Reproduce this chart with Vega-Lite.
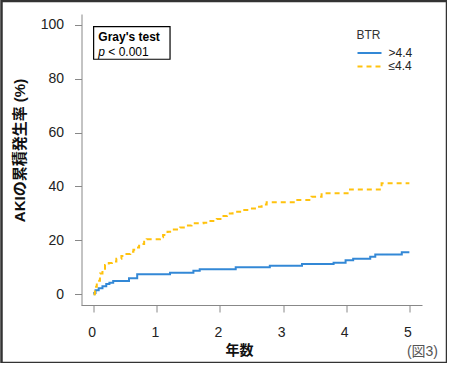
{
  "$schema": "https://vega.github.io/schema/vega-lite/v6.json",
  "width": 445.5,
  "height": 362,
  "autosize": {"type": "none"},
  "padding": {"left": 1.5, "top": 1, "right": 0, "bottom": 0},
  "config": {
    "font": "Liberation Sans, 'Noto Sans CJK JP'",
    "view": {"stroke": "#333333", "strokeWidth": 2.5},
    "legend": {
      "orient": "none",
      "legendX": 355,
      "legendY": 29,
      "padding": 0,
      "titleFontSize": 12,
      "titleFontWeight": "normal",
      "titleColor": "#333333",
      "titlePadding": 5,
      "labelFontSize": 12,
      "labelColor": "#222222",
      "labelOffset": 6,
      "symbolType": "stroke",
      "symbolSize": 576,
      "symbolStrokeWidth": 2,
      "clipHeight": 12,
      "rowPadding": 1.4
    }
  },
  "datasets": {
    "curves": [
      {"years": 0, "cuminc": 0, "BTR": ">4.4"},
      {"years": 0.01, "cuminc": 0.5, "BTR": ">4.4"},
      {"years": 0.03, "cuminc": 1.5, "BTR": ">4.4"},
      {"years": 0.08, "cuminc": 2.2, "BTR": ">4.4"},
      {"years": 0.14, "cuminc": 3.0, "BTR": ">4.4"},
      {"years": 0.2, "cuminc": 3.8, "BTR": ">4.4"},
      {"years": 0.25, "cuminc": 4.3, "BTR": ">4.4"},
      {"years": 0.31, "cuminc": 4.9, "BTR": ">4.4"},
      {"years": 0.56, "cuminc": 5.9, "BTR": ">4.4"},
      {"years": 0.69, "cuminc": 7.4, "BTR": ">4.4"},
      {"years": 1.21, "cuminc": 8.0, "BTR": ">4.4"},
      {"years": 1.58, "cuminc": 8.7, "BTR": ">4.4"},
      {"years": 1.68, "cuminc": 9.3, "BTR": ">4.4"},
      {"years": 2.25, "cuminc": 10.0, "BTR": ">4.4"},
      {"years": 2.79, "cuminc": 10.6, "BTR": ">4.4"},
      {"years": 3.3, "cuminc": 11.2, "BTR": ">4.4"},
      {"years": 3.8, "cuminc": 11.7, "BTR": ">4.4"},
      {"years": 3.99, "cuminc": 12.6, "BTR": ">4.4"},
      {"years": 4.11, "cuminc": 13.2, "BTR": ">4.4"},
      {"years": 4.38, "cuminc": 13.9, "BTR": ">4.4"},
      {"years": 4.46, "cuminc": 14.7, "BTR": ">4.4"},
      {"years": 4.88, "cuminc": 15.6, "BTR": ">4.4"},
      {"years": 5.0, "cuminc": 15.6, "BTR": ">4.4"},
      {"years": 0, "cuminc": 0, "BTR": "≤4.4"},
      {"years": 0.02, "cuminc": 2.8, "BTR": "≤4.4"},
      {"years": 0.05, "cuminc": 5.0, "BTR": "≤4.4"},
      {"years": 0.1, "cuminc": 7.7, "BTR": "≤4.4"},
      {"years": 0.14, "cuminc": 9.5, "BTR": "≤4.4"},
      {"years": 0.18, "cuminc": 10.8, "BTR": "≤4.4"},
      {"years": 0.24, "cuminc": 11.6, "BTR": "≤4.4"},
      {"years": 0.29, "cuminc": 12.1, "BTR": "≤4.4"},
      {"years": 0.36, "cuminc": 13.2, "BTR": "≤4.4"},
      {"years": 0.44, "cuminc": 14.2, "BTR": "≤4.4"},
      {"years": 0.5, "cuminc": 14.9, "BTR": "≤4.4"},
      {"years": 0.58, "cuminc": 15.8, "BTR": "≤4.4"},
      {"years": 0.63, "cuminc": 16.5, "BTR": "≤4.4"},
      {"years": 0.68, "cuminc": 17.3, "BTR": "≤4.4"},
      {"years": 0.72, "cuminc": 18.0, "BTR": "≤4.4"},
      {"years": 0.76, "cuminc": 18.6, "BTR": "≤4.4"},
      {"years": 0.8, "cuminc": 19.5, "BTR": "≤4.4"},
      {"years": 0.84, "cuminc": 20.4, "BTR": "≤4.4"},
      {"years": 1.05, "cuminc": 21.1, "BTR": "≤4.4"},
      {"years": 1.1, "cuminc": 22.0, "BTR": "≤4.4"},
      {"years": 1.17, "cuminc": 23.2, "BTR": "≤4.4"},
      {"years": 1.27, "cuminc": 24.0, "BTR": "≤4.4"},
      {"years": 1.37, "cuminc": 24.8, "BTR": "≤4.4"},
      {"years": 1.45, "cuminc": 25.5, "BTR": "≤4.4"},
      {"years": 1.55, "cuminc": 26.3, "BTR": "≤4.4"},
      {"years": 1.74, "cuminc": 26.5, "BTR": "≤4.4"},
      {"years": 1.85, "cuminc": 27.2, "BTR": "≤4.4"},
      {"years": 1.95, "cuminc": 27.9, "BTR": "≤4.4"},
      {"years": 2.03, "cuminc": 29.0, "BTR": "≤4.4"},
      {"years": 2.11, "cuminc": 30.0, "BTR": "≤4.4"},
      {"years": 2.2, "cuminc": 30.6, "BTR": "≤4.4"},
      {"years": 2.32, "cuminc": 31.3, "BTR": "≤4.4"},
      {"years": 2.45, "cuminc": 31.8, "BTR": "≤4.4"},
      {"years": 2.58, "cuminc": 32.5, "BTR": "≤4.4"},
      {"years": 2.66, "cuminc": 33.3, "BTR": "≤4.4"},
      {"years": 2.74, "cuminc": 34.1, "BTR": "≤4.4"},
      {"years": 3.19, "cuminc": 35.0, "BTR": "≤4.4"},
      {"years": 3.45, "cuminc": 36.2, "BTR": "≤4.4"},
      {"years": 3.61, "cuminc": 37.5, "BTR": "≤4.4"},
      {"years": 4.06, "cuminc": 38.9, "BTR": "≤4.4"},
      {"years": 4.56, "cuminc": 41.2, "BTR": "≤4.4"},
      {"years": 5.0, "cuminc": 41.2, "BTR": "≤4.4"}
    ]
  },
  "layer": [
    {
      "data": {"name": "curves"},
      "mark": {"type": "line", "interpolate": "step-after", "strokeWidth": 2},
      "encoding": {
        "x": {
          "field": "years",
          "type": "quantitative",
          "scale": {"domain": [-0.2, 5.2], "range": [79.5, 420.5], "nice": false, "zero": false},
          "axis": {
            "title": "年数",
            "titleFontSize": 14,
            "titleFontWeight": "bold",
            "titleColor": "#111111",
            "titleX": 237.5,
            "titleY": 38,
            "values": [0, 1, 2, 3, 4, 5],
            "format": "d",
            "offset": -58,
            "grid": false,
            "domainColor": "#888888",
            "tickColor": "#888888",
            "tickSize": 7,
            "labelFontSize": 14,
            "labelPadding": 13,
            "labelColor": "#222222",
            "labelOffset": -2,
            "labelFlush": false,
            "labelOverlap": false
          }
        },
        "y": {
          "field": "cuminc",
          "type": "quantitative",
          "scale": {"domain": [-4, 104], "range": [304, 13], "nice": false, "zero": false},
          "axis": {
            "title": "AKIの累積発生率 (%)",
            "titleFontSize": 15,
            "titleFontWeight": "bold",
            "titleColor": "#111111",
            "titleX": -54.5,
            "titleY": 149,
            "values": [0, 20, 40, 60, 80, 100],
            "offset": -80,
            "grid": false,
            "domainColor": "#888888",
            "tickColor": "#888888",
            "tickSize": 7,
            "labelFontSize": 14,
            "labelPadding": 11,
            "labelColor": "#222222",
            "labelFlush": false,
            "labelOverlap": false
          }
        },
        "color": {
          "field": "BTR",
          "type": "nominal",
          "scale": {"domain": [">4.4", "≤4.4"], "range": ["#3388d6", "#ffc20e"]},
          "legend": {"title": "BTR"}
        },
        "strokeDash": {
          "field": "BTR",
          "type": "nominal",
          "scale": {"domain": [">4.4", "≤4.4"], "range": [[1, 0], [5, 4]]},
          "legend": {"title": "BTR"}
        }
      }
    },
    {
      "data": {"values": [{"label": "box"}]},
      "mark": {"type": "rect", "fill": "white", "stroke": "black", "strokeWidth": 1.2},
      "encoding": {
        "x": {"datum": 0},
        "x2": {"datum": 1.21},
        "y": {"datum": 99.3},
        "y2": {"datum": 87.2}
      }
    },
    {
      "data": {"values": [{"label": "Gray's test"}]},
      "mark": {"type": "text", "align": "left", "baseline": "middle", "fontSize": 12, "fontWeight": "bold", "color": "black"},
      "encoding": {
        "x": {"datum": 0.074},
        "y": {"datum": 95.6},
        "text": {"field": "label"}
      }
    },
    {
      "data": {"values": [{"label": "p"}]},
      "mark": {"type": "text", "align": "left", "baseline": "middle", "fontSize": 12, "fontStyle": "italic", "color": "black"},
      "encoding": {
        "x": {"datum": 0.074},
        "y": {"datum": 90.0},
        "text": {"field": "label"}
      }
    },
    {
      "data": {"values": [{"label": "< 0.001"}]},
      "mark": {"type": "text", "align": "left", "baseline": "middle", "fontSize": 12, "dx": 10, "color": "black"},
      "encoding": {
        "x": {"datum": 0.074},
        "y": {"datum": 90.0},
        "text": {"field": "label"}
      }
    },
    {
      "data": {"values": [{"label": "(図3)"}]},
      "mark": {"type": "text", "align": "right", "baseline": "middle", "fontSize": 14, "dx": 16, "color": "#555555"},
      "encoding": {
        "x": {"datum": 5.2},
        "y": {"datum": -21.45},
        "text": {"field": "label"}
      }
    }
  ]
}
